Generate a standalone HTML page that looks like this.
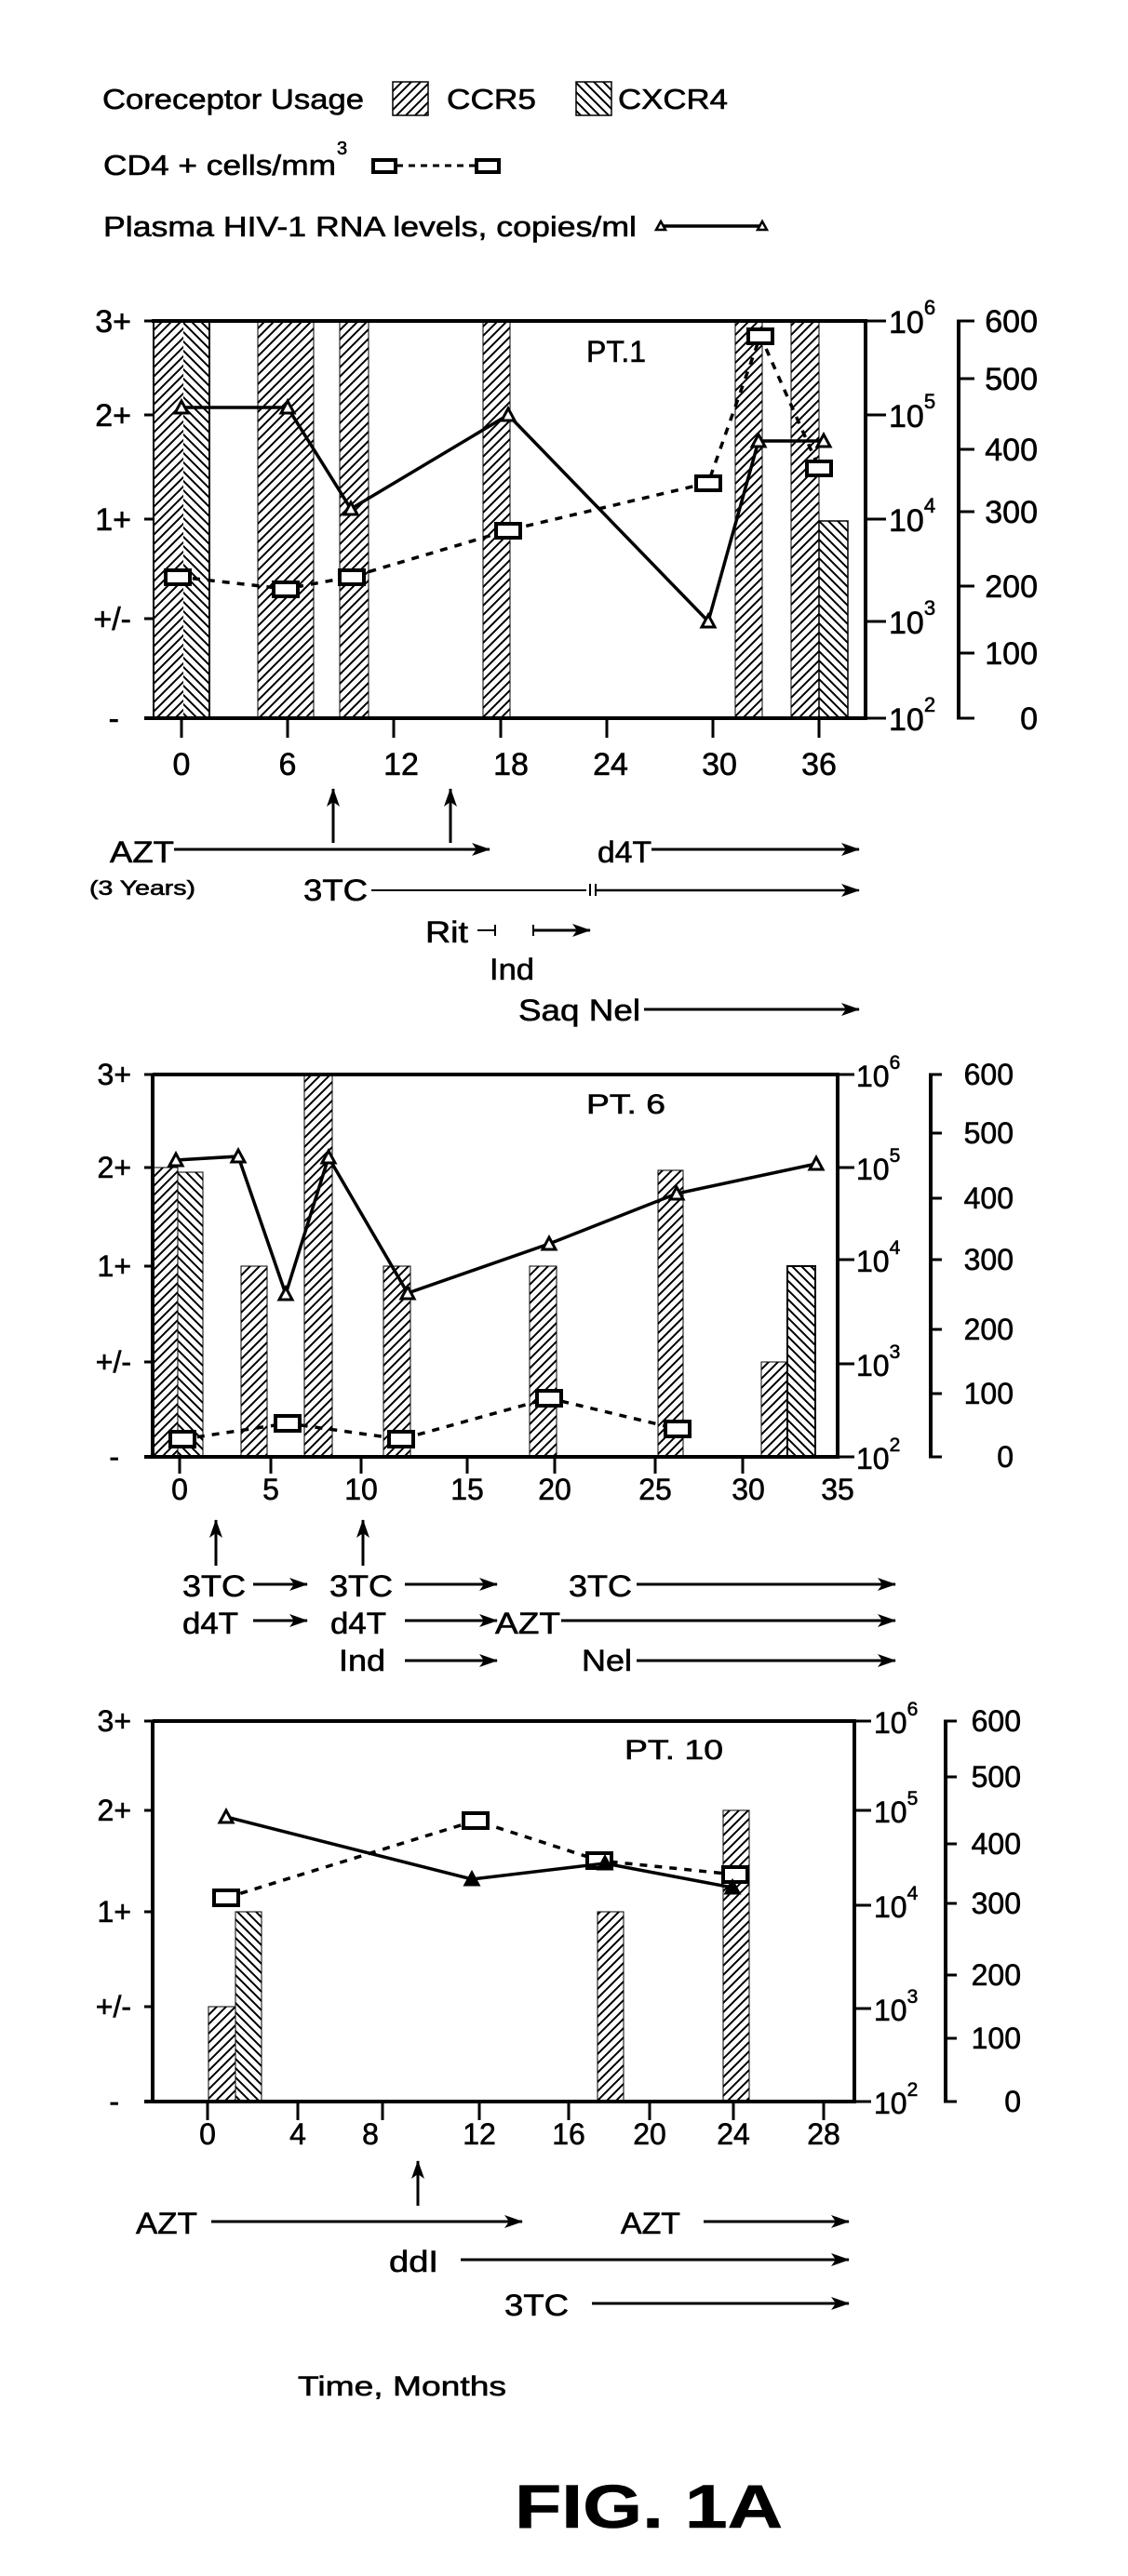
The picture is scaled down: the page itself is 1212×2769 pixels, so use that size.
<!DOCTYPE html>
<html><head><meta charset="utf-8"><style>
html,body{margin:0;padding:0;background:#fff;}
svg{display:block;}
text{font-family:"Liberation Sans",Arial,sans-serif;fill:#000;stroke:#000;stroke-width:0.6;}
</style></head><body>
<svg width="1212" height="2769" viewBox="0 0 1212 2769" xmlns="http://www.w3.org/2000/svg">
<defs>
<pattern id="r5" patternUnits="userSpaceOnUse" width="10" height="10"><rect width="10" height="10" fill="#fff"/><path d="M-2,12 L12,-2 M-2,2 L2,-2 M8,12 L12,8" stroke="#000" stroke-width="2"/></pattern>
<pattern id="x4" patternUnits="userSpaceOnUse" width="10" height="10"><rect width="10" height="10" fill="#fff"/><path d="M-2,-2 L12,12 M8,-2 L12,2 M-2,8 L2,12" stroke="#000" stroke-width="2"/></pattern>
<marker id="ahbig" viewBox="0 0 20 14" markerWidth="22" markerHeight="14" refX="19" refY="7" orient="auto" markerUnits="userSpaceOnUse"><path d="M0,0 L20,7 L0,14 L5,7 Z" fill="#000"/></marker>
</defs>

<!-- Legend -->
<text x="110" y="117" font-size="31" textLength="281" lengthAdjust="spacingAndGlyphs">Coreceptor Usage</text>
<rect x="422" y="88" width="38" height="36" fill="url(#r5)" stroke="#000" stroke-width="1.5"/>
<text x="480" y="117" font-size="31" textLength="96" lengthAdjust="spacingAndGlyphs">CCR5</text>
<rect x="619" y="88" width="38" height="36" fill="url(#x4)" stroke="#000" stroke-width="1.5"/>
<text x="664" y="117" font-size="31" textLength="118" lengthAdjust="spacingAndGlyphs">CXCR4</text>
<text x="111" y="188" font-size="31" textLength="250" lengthAdjust="spacingAndGlyphs">CD4 + cells/mm</text>
<text x="362" y="166" font-size="20">3</text>
<line x1="426" y1="178" x2="511" y2="178" stroke="#000" stroke-width="3" stroke-dasharray="7,6"/>
<rect x="401" y="172" width="24" height="13" fill="#fff" stroke="#000" stroke-width="4"/>
<rect x="512" y="172" width="24" height="13" fill="#fff" stroke="#000" stroke-width="4"/>
<text x="111" y="254" font-size="31" textLength="573" lengthAdjust="spacingAndGlyphs">Plasma HIV-1 RNA levels, copies/ml</text>
<line x1="710" y1="243" x2="819" y2="243" stroke="#000" stroke-width="3.5"/>
<path d="M705,247 L715,247 L710,238 Z" fill="#fff" stroke="#000" stroke-width="2.5"/>
<path d="M814,247 L824,247 L819,238 Z" fill="#fff" stroke="#000" stroke-width="2.5"/>

<!-- ========== CHART 1 ========== -->
<g>
<rect x="165" y="345" width="32" height="427" fill="url(#r5)"/>
<rect x="197" y="345" width="28" height="427" fill="url(#x4)"/>
<line x1="165" y1="345" x2="165" y2="772" stroke="#000" stroke-width="2"/>
<line x1="225" y1="345" x2="225" y2="772" stroke="#000" stroke-width="2"/>
<rect x="277" y="345" width="60" height="427" fill="url(#r5)" stroke="#000" stroke-width="1"/>
<rect x="365" y="345" width="31" height="427" fill="url(#r5)" stroke="#000" stroke-width="1"/>
<rect x="519" y="345" width="29" height="427" fill="url(#r5)" stroke="#000" stroke-width="1"/>
<rect x="790" y="345" width="29" height="427" fill="url(#r5)" stroke="#000" stroke-width="1"/>
<rect x="850" y="345" width="30" height="427" fill="url(#r5)" stroke="#000" stroke-width="1"/>
<rect x="880" y="560" width="31" height="212" fill="url(#x4)" stroke="#000" stroke-width="1.5"/>
<line x1="163" y1="345" x2="932" y2="345" stroke="#000" stroke-width="4"/>
<line x1="155" y1="772" x2="932" y2="772" stroke="#000" stroke-width="4"/>
<line x1="930" y1="343" x2="930" y2="774" stroke="#000" stroke-width="4"/>
<line x1="1030" y1="345" x2="1030" y2="772" stroke="#000" stroke-width="4"/>
<g stroke="#000" stroke-width="3">
<line x1="155" y1="345" x2="165" y2="345"/><line x1="155" y1="446" x2="165" y2="446"/><line x1="155" y1="558" x2="165" y2="558"/><line x1="155" y1="665" x2="165" y2="665"/>
<line x1="930" y1="345" x2="952" y2="345"/><line x1="930" y1="446" x2="952" y2="446"/><line x1="930" y1="558" x2="952" y2="558"/><line x1="930" y1="668" x2="952" y2="668"/><line x1="930" y1="772" x2="952" y2="772"/>
<line x1="1028" y1="345" x2="1047" y2="345"/><line x1="1028" y1="407" x2="1047" y2="407"/><line x1="1028" y1="483" x2="1047" y2="483"/><line x1="1028" y1="550" x2="1047" y2="550"/><line x1="1028" y1="630" x2="1047" y2="630"/><line x1="1028" y1="702" x2="1047" y2="702"/><line x1="1028" y1="772" x2="1047" y2="772"/>
<line x1="195" y1="772" x2="195" y2="793"/><line x1="309" y1="772" x2="309" y2="793"/><line x1="423" y1="772" x2="423" y2="793"/><line x1="538" y1="772" x2="538" y2="793"/><line x1="652" y1="772" x2="652" y2="793"/><line x1="766" y1="772" x2="766" y2="793"/><line x1="880" y1="772" x2="880" y2="793"/>
</g>
<g font-size="34" text-anchor="end">
<text x="141" y="357">3+</text><text x="141" y="458">2+</text><text x="141" y="570">1+</text><text x="141" y="677">+/-</text><text x="128" y="784">-</text>
</g>
<g font-size="34" text-anchor="middle">
<text x="195" y="833">0</text><text x="309" y="833">6</text><text x="431" y="833">12</text><text x="549" y="833">18</text><text x="656" y="833">24</text><text x="773" y="833">30</text><text x="880" y="833">36</text>
</g>
<g font-size="34">
<text x="955" y="358">10<tspan font-size="22" dy="-20">6</tspan></text>
<text x="955" y="459">10<tspan font-size="22" dy="-20">5</tspan></text>
<text x="955" y="571">10<tspan font-size="22" dy="-20">4</tspan></text>
<text x="955" y="681">10<tspan font-size="22" dy="-20">3</tspan></text>
<text x="955" y="785">10<tspan font-size="22" dy="-20">2</tspan></text>
</g>
<g font-size="34" text-anchor="end">
<text x="1115" y="357">600</text><text x="1115" y="419">500</text><text x="1115" y="495">400</text><text x="1115" y="562">300</text><text x="1115" y="642">200</text><text x="1115" y="714">100</text><text x="1115" y="784">0</text>
</g>
<text x="630" y="389" font-size="32">PT.1</text>
<polyline points="191,620 307,633 378,620 546,570 761,519 817,361 880,503" fill="none" stroke="#000" stroke-width="3.5" stroke-dasharray="8,8"/>
<g fill="#fff" stroke="#000" stroke-width="4">
<rect x="178" y="613" width="26" height="15"/><rect x="294" y="626" width="26" height="15"/><rect x="365" y="613" width="26" height="15"/><rect x="533" y="563" width="26" height="15"/><rect x="748" y="512" width="26" height="15"/><rect x="804" y="354" width="26" height="15"/><rect x="867" y="496" width="26" height="15"/>
</g>
<polyline points="195,438 309,438 377,547 546,446 761,668 815,474 885,474" fill="none" stroke="#000" stroke-width="3.5"/>
<g fill="#fff" stroke="#000" stroke-width="3">
<path d="M188,444 L202,444 L195,431 Z"/><path d="M302,444 L316,444 L309,431 Z"/><path d="M370,553 L384,553 L377,540 Z"/><path d="M539,452 L553,452 L546,439 Z"/><path d="M754,674 L768,674 L761,661 Z"/><path d="M808,480 L822,480 L815,467 Z"/><path d="M878,480 L892,480 L885,467 Z"/>
</g>
<g stroke="#000" stroke-width="3">
<line x1="358" y1="906" x2="358" y2="848" marker-end="url(#ahbig)"/>
<line x1="484" y1="906" x2="484" y2="848" marker-end="url(#ahbig)"/>
<line x1="187" y1="913" x2="526" y2="913" marker-end="url(#ahbig)"/>
<line x1="700" y1="913" x2="923" y2="913" marker-end="url(#ahbig)"/>
<line x1="399" y1="957" x2="630" y2="957" stroke-width="2"/>
<line x1="634" y1="950" x2="634" y2="963" stroke-width="2"/><line x1="640" y1="950" x2="640" y2="963" stroke-width="2"/>
<line x1="640" y1="957" x2="923" y2="957" stroke-width="2.5" marker-end="url(#ahbig)"/>
<line x1="513" y1="1000" x2="531" y2="1000" stroke-width="2"/><line x1="532" y1="994" x2="532" y2="1006" stroke-width="2"/>
<line x1="573" y1="1000" x2="634" y2="1000" marker-end="url(#ahbig)"/>
<line x1="573" y1="994" x2="573" y2="1006" stroke-width="2"/>
<line x1="692" y1="1085" x2="923" y2="1085" marker-end="url(#ahbig)"/>
</g>
<g font-size="32">
<text x="118" y="927" textLength="69" lengthAdjust="spacingAndGlyphs">AZT</text>
<text x="96" y="962" font-size="22" textLength="114" lengthAdjust="spacingAndGlyphs">(3 Years)</text>
<text x="642" y="927" textLength="58" lengthAdjust="spacingAndGlyphs">d4T</text>
<text x="326" y="968" textLength="69" lengthAdjust="spacingAndGlyphs">3TC</text>
<text x="457" y="1013" textLength="46" lengthAdjust="spacingAndGlyphs">Rit</text>
<text x="526" y="1053" textLength="48" lengthAdjust="spacingAndGlyphs">Ind</text>
<text x="557" y="1097" textLength="131" lengthAdjust="spacingAndGlyphs">Saq Nel</text>
</g>
</g>

<!-- ========== CHART 2 ========== -->
<g>
<rect x="164" y="1255" width="27" height="311" fill="url(#r5)" stroke="#000" stroke-width="1"/>
<rect x="191" y="1260" width="27" height="306" fill="url(#x4)" stroke="#000" stroke-width="1"/>
<rect x="259" y="1361" width="28" height="205" fill="url(#r5)" stroke="#000" stroke-width="1"/>
<rect x="327" y="1155" width="30" height="411" fill="url(#r5)" stroke="#000" stroke-width="1"/>
<rect x="412" y="1361" width="29" height="205" fill="url(#r5)" stroke="#000" stroke-width="1"/>
<rect x="569" y="1361" width="29" height="205" fill="url(#r5)" stroke="#000" stroke-width="1"/>
<rect x="707" y="1258" width="27" height="308" fill="url(#r5)" stroke="#000" stroke-width="1"/>
<rect x="818" y="1464" width="28" height="102" fill="url(#r5)" stroke="#000" stroke-width="1"/>
<rect x="846" y="1361" width="30" height="205" fill="url(#x4)" stroke="#000" stroke-width="2"/>
<line x1="164" y1="1155" x2="902" y2="1155" stroke="#000" stroke-width="4"/>
<line x1="155" y1="1566" x2="902" y2="1566" stroke="#000" stroke-width="4"/>
<line x1="164" y1="1155" x2="164" y2="1566" stroke="#000" stroke-width="4"/>
<line x1="900" y1="1153" x2="900" y2="1568" stroke="#000" stroke-width="4"/>
<line x1="1000" y1="1155" x2="1000" y2="1566" stroke="#000" stroke-width="4"/>
<g stroke="#000" stroke-width="3">
<line x1="155" y1="1155" x2="164" y2="1155"/><line x1="155" y1="1255" x2="164" y2="1255"/><line x1="155" y1="1361" x2="164" y2="1361"/><line x1="155" y1="1464" x2="164" y2="1464"/>
<line x1="900" y1="1155" x2="918" y2="1155"/><line x1="900" y1="1255" x2="918" y2="1255"/><line x1="900" y1="1354" x2="918" y2="1354"/><line x1="900" y1="1466" x2="918" y2="1466"/><line x1="900" y1="1566" x2="918" y2="1566"/>
<line x1="998" y1="1155" x2="1012" y2="1155"/><line x1="998" y1="1218" x2="1012" y2="1218"/><line x1="998" y1="1288" x2="1012" y2="1288"/><line x1="998" y1="1354" x2="1012" y2="1354"/><line x1="998" y1="1429" x2="1012" y2="1429"/><line x1="998" y1="1498" x2="1012" y2="1498"/><line x1="998" y1="1566" x2="1012" y2="1566"/>
<line x1="193" y1="1566" x2="193" y2="1584"/><line x1="291" y1="1566" x2="291" y2="1584"/><line x1="388" y1="1566" x2="388" y2="1584"/><line x1="502" y1="1566" x2="502" y2="1584"/><line x1="596" y1="1566" x2="596" y2="1584"/><line x1="704" y1="1566" x2="704" y2="1584"/><line x1="798" y1="1566" x2="798" y2="1584"/>
</g>
<g font-size="32" text-anchor="end">
<text x="141" y="1166">3+</text><text x="141" y="1266">2+</text><text x="141" y="1372">1+</text><text x="141" y="1475">+/-</text><text x="128" y="1577">-</text>
</g>
<g font-size="32" text-anchor="middle">
<text x="193" y="1612">0</text><text x="291" y="1612">5</text><text x="388" y="1612">10</text><text x="502" y="1612">15</text><text x="596" y="1612">20</text><text x="704" y="1612">25</text><text x="804" y="1612">30</text><text x="900" y="1612">35</text>
</g>
<g font-size="32">
<text x="920" y="1168">10<tspan font-size="21" dy="-19">6</tspan></text>
<text x="920" y="1268">10<tspan font-size="21" dy="-19">5</tspan></text>
<text x="920" y="1367">10<tspan font-size="21" dy="-19">4</tspan></text>
<text x="920" y="1479">10<tspan font-size="21" dy="-19">3</tspan></text>
<text x="920" y="1579">10<tspan font-size="21" dy="-19">2</tspan></text>
</g>
<g font-size="32" text-anchor="end">
<text x="1089" y="1166">600</text><text x="1089" y="1229">500</text><text x="1089" y="1299">400</text><text x="1089" y="1365">300</text><text x="1089" y="1440">200</text><text x="1089" y="1509">100</text><text x="1089" y="1577">0</text>
</g>
<text x="630" y="1197" font-size="30" textLength="85" lengthAdjust="spacingAndGlyphs">PT. 6</text>
<polyline points="196,1547 309,1530 431,1547 590,1503 728,1536" fill="none" stroke="#000" stroke-width="3.5" stroke-dasharray="8,8"/>
<g fill="#fff" stroke="#000" stroke-width="4">
<rect x="183" y="1539" width="26" height="16"/><rect x="296" y="1522" width="26" height="16"/><rect x="418" y="1539" width="26" height="16"/><rect x="577" y="1495" width="26" height="16"/><rect x="715" y="1528" width="26" height="16"/>
</g>
<polyline points="189,1247 256,1243 307,1391 353,1244 438,1390 590,1337 727,1283 877,1251" fill="none" stroke="#000" stroke-width="3.5"/>
<g fill="#fff" stroke="#000" stroke-width="3">
<path d="M182,1253 L196,1253 L189,1240 Z"/><path d="M249,1249 L263,1249 L256,1236 Z"/><path d="M300,1397 L314,1397 L307,1384 Z"/><path d="M346,1250 L360,1250 L353,1237 Z"/><path d="M431,1396 L445,1396 L438,1383 Z"/><path d="M583,1343 L597,1343 L590,1330 Z"/><path d="M720,1289 L734,1289 L727,1276 Z"/><path d="M870,1257 L884,1257 L877,1244 Z"/>
</g>
<g stroke="#000" stroke-width="3">
<line x1="232" y1="1683" x2="232" y2="1634" marker-end="url(#ahbig)"/>
<line x1="390" y1="1683" x2="390" y2="1634" marker-end="url(#ahbig)"/>
<line x1="272" y1="1703" x2="330" y2="1703" marker-end="url(#ahbig)"/>
<line x1="435" y1="1703" x2="534" y2="1703" marker-end="url(#ahbig)"/>
<line x1="684" y1="1703" x2="962" y2="1703" marker-end="url(#ahbig)"/>
<line x1="272" y1="1742" x2="330" y2="1742" marker-end="url(#ahbig)"/>
<line x1="435" y1="1742" x2="534" y2="1742" marker-end="url(#ahbig)"/>
<line x1="603" y1="1742" x2="962" y2="1742" marker-end="url(#ahbig)"/>
<line x1="435" y1="1785" x2="534" y2="1785" marker-end="url(#ahbig)"/>
<line x1="684" y1="1785" x2="962" y2="1785" marker-end="url(#ahbig)"/>
</g>
<g font-size="32">
<text x="196" y="1716" textLength="68" lengthAdjust="spacingAndGlyphs">3TC</text>
<text x="354" y="1716" textLength="68" lengthAdjust="spacingAndGlyphs">3TC</text>
<text x="611" y="1716" textLength="68" lengthAdjust="spacingAndGlyphs">3TC</text>
<text x="196" y="1756" textLength="60" lengthAdjust="spacingAndGlyphs">d4T</text>
<text x="355" y="1756" textLength="60" lengthAdjust="spacingAndGlyphs">d4T</text>
<text x="532" y="1756" textLength="70" lengthAdjust="spacingAndGlyphs">AZT</text>
<text x="364" y="1796" textLength="50" lengthAdjust="spacingAndGlyphs">Ind</text>
<text x="625" y="1796" textLength="54" lengthAdjust="spacingAndGlyphs">Nel</text>
</g>
</g>

<!-- ========== CHART 3 ========== -->
<g>
<rect x="224" y="2157" width="29" height="102" fill="url(#r5)" stroke="#000" stroke-width="1"/>
<rect x="253" y="2055" width="28" height="204" fill="url(#x4)" stroke="#000" stroke-width="1"/>
<rect x="642" y="2055" width="28" height="204" fill="url(#r5)" stroke="#000" stroke-width="1"/>
<rect x="777" y="1946" width="28" height="313" fill="url(#r5)" stroke="#000" stroke-width="1"/>
<line x1="164" y1="1850" x2="920" y2="1850" stroke="#000" stroke-width="4"/>
<line x1="155" y1="2259" x2="920" y2="2259" stroke="#000" stroke-width="4"/>
<line x1="164" y1="1850" x2="164" y2="2259" stroke="#000" stroke-width="4"/>
<line x1="918" y1="1848" x2="918" y2="2261" stroke="#000" stroke-width="4"/>
<line x1="1016" y1="1850" x2="1016" y2="2259" stroke="#000" stroke-width="4"/>
<g stroke="#000" stroke-width="3">
<line x1="155" y1="1850" x2="164" y2="1850"/><line x1="155" y1="1946" x2="164" y2="1946"/><line x1="155" y1="2055" x2="164" y2="2055"/><line x1="155" y1="2157" x2="164" y2="2157"/>
<line x1="918" y1="1850" x2="936" y2="1850"/><line x1="918" y1="1946" x2="936" y2="1946"/><line x1="918" y1="2048" x2="936" y2="2048"/><line x1="918" y1="2159" x2="936" y2="2159"/><line x1="918" y1="2259" x2="936" y2="2259"/>
<line x1="1014" y1="1850" x2="1028" y2="1850"/><line x1="1014" y1="1910" x2="1028" y2="1910"/><line x1="1014" y1="1982" x2="1028" y2="1982"/><line x1="1014" y1="2046" x2="1028" y2="2046"/><line x1="1014" y1="2123" x2="1028" y2="2123"/><line x1="1014" y1="2191" x2="1028" y2="2191"/><line x1="1014" y1="2259" x2="1028" y2="2259"/>
<line x1="223" y1="2259" x2="223" y2="2279"/><line x1="320" y1="2259" x2="320" y2="2279"/><line x1="411" y1="2259" x2="411" y2="2279"/><line x1="515" y1="2259" x2="515" y2="2279"/><line x1="611" y1="2259" x2="611" y2="2279"/><line x1="698" y1="2259" x2="698" y2="2279"/><line x1="788" y1="2259" x2="788" y2="2279"/><line x1="885" y1="2259" x2="885" y2="2279"/>
</g>
<g font-size="32" text-anchor="end">
<text x="141" y="1861">3+</text><text x="141" y="1957">2+</text><text x="141" y="2066">1+</text><text x="141" y="2168">+/-</text><text x="128" y="2270">-</text>
</g>
<g font-size="32" text-anchor="middle">
<text x="223" y="2305">0</text><text x="320" y="2305">4</text><text x="398" y="2305">8</text><text x="515" y="2305">12</text><text x="611" y="2305">16</text><text x="698" y="2305">20</text><text x="788" y="2305">24</text><text x="885" y="2305">28</text>
</g>
<g font-size="32">
<text x="939" y="1863">10<tspan font-size="21" dy="-19">6</tspan></text>
<text x="939" y="1959">10<tspan font-size="21" dy="-19">5</tspan></text>
<text x="939" y="2061">10<tspan font-size="21" dy="-19">4</tspan></text>
<text x="939" y="2172">10<tspan font-size="21" dy="-19">3</tspan></text>
<text x="939" y="2272">10<tspan font-size="21" dy="-19">2</tspan></text>
</g>
<g font-size="32" text-anchor="end">
<text x="1097" y="1861">600</text><text x="1097" y="1921">500</text><text x="1097" y="1993">400</text><text x="1097" y="2057">300</text><text x="1097" y="2134">200</text><text x="1097" y="2202">100</text><text x="1097" y="2270">0</text>
</g>
<text x="671" y="1891" font-size="30" textLength="106" lengthAdjust="spacingAndGlyphs">PT. 10</text>
<polyline points="243,2040 511,1957 644,2000 790,2015" fill="none" stroke="#000" stroke-width="3.5" stroke-dasharray="8,8"/>
<g fill="#fff" stroke="#000" stroke-width="4">
<rect x="230" y="2032" width="26" height="16"/><rect x="498" y="1949" width="26" height="16"/><rect x="631" y="1992" width="26" height="16"/><rect x="777" y="2007" width="26" height="16"/>
</g>
<polyline points="243,1953 507,2020 650,2003 787,2029" fill="none" stroke="#000" stroke-width="3.5"/>
<g stroke="#000" stroke-width="3">
<path d="M236,1959 L250,1959 L243,1946 Z" fill="#fff"/><path d="M500,2026 L514,2026 L507,2013 Z" fill="#000"/><path d="M643,2009 L657,2009 L650,1996 Z" fill="#000"/><path d="M780,2035 L794,2035 L787,2022 Z" fill="#000"/>
</g>
<g stroke="#000" stroke-width="3">
<line x1="449" y1="2371" x2="449" y2="2323" marker-end="url(#ahbig)"/>
<line x1="227" y1="2388" x2="561" y2="2388" marker-end="url(#ahbig)"/>
<line x1="756" y1="2388" x2="912" y2="2388" marker-end="url(#ahbig)"/>
<line x1="495" y1="2429" x2="912" y2="2429" marker-end="url(#ahbig)"/>
<line x1="636" y1="2476" x2="912" y2="2476" marker-end="url(#ahbig)"/>
</g>
<g font-size="32">
<text x="146" y="2401" textLength="66" lengthAdjust="spacingAndGlyphs">AZT</text>
<text x="667" y="2401" textLength="64" lengthAdjust="spacingAndGlyphs">AZT</text>
<text x="418" y="2442" textLength="53" lengthAdjust="spacingAndGlyphs">ddI</text>
<text x="542" y="2489" textLength="69" lengthAdjust="spacingAndGlyphs">3TC</text>
</g>
<text x="320" y="2575" font-size="30" textLength="224" lengthAdjust="spacingAndGlyphs">Time, Months</text>
<text x="553" y="2717" font-size="66" font-weight="bold" textLength="288" lengthAdjust="spacingAndGlyphs">FIG. 1A</text>
</g>
</svg>
</body></html>
